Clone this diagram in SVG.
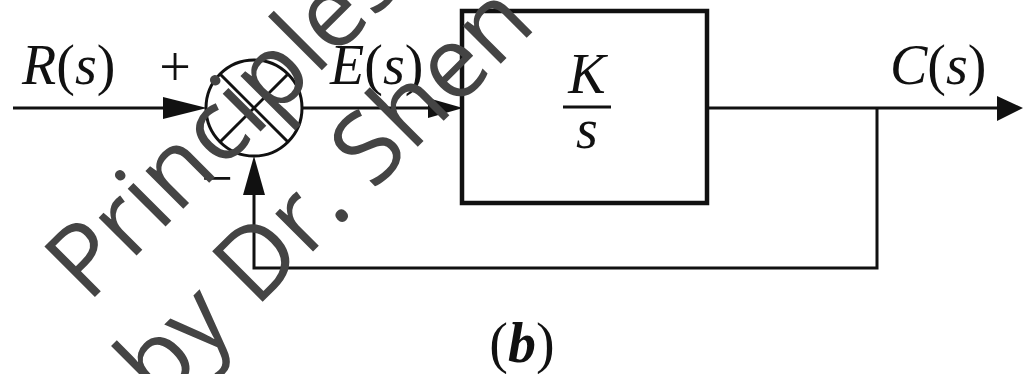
<svg xmlns="http://www.w3.org/2000/svg" width="1023" height="374" viewBox="0 0 1023 374">
<style>
.ln{stroke:#111;stroke-width:3;fill:none}
.ah{fill:#111;stroke:none}
.lbl{font-family:"Liberation Serif","Times New Roman",serif;font-size:56px;fill:#111}
.it{font-style:italic}
.wm{font-family:"Open Sans","Noto Sans",sans-serif;font-size:100px;fill:#444;font-weight:500}
</style>
<rect width="1023" height="374" fill="#fff"/>
<g id="connectors">
<line class="ln" x1="13" y1="108" x2="180" y2="108"/>
<polygon class="ah" points="163,97 207,108 163,119"/>
<line class="ln" x1="302" y1="108" x2="440" y2="108"/>
<polygon class="ah" points="428,98 463,108 428,118"/>
<line class="ln" x1="707" y1="108" x2="1005" y2="108"/>
<polygon class="ah" points="997,96 1023,108 997,121"/>
<polyline class="ln" points="877,108 877,268 254,268 254,185"/>
<polygon class="ah" points="243,195 254,156 265,195"/>
</g>
<g id="input-label">
<text class="lbl" x="22" y="84"><tspan class="it">R</tspan>(<tspan class="it">s</tspan>)</text>
</g>
<g id="sum">
<circle cx="254" cy="108" r="48" class="ln"/>
<line class="ln" x1="220" y1="74" x2="288" y2="142" stroke-width="2.5"/>
<line class="ln" x1="220" y1="142" x2="288" y2="74" stroke-width="2.5"/>
<text class="lbl" x="175" y="86" text-anchor="middle" font-size="62">+</text>
<text class="lbl" x="217" y="197" text-anchor="middle">−</text>
</g>
<g id="error-label">
<text class="lbl" x="330" y="84"><tspan class="it">E</tspan>(<tspan class="it">s</tspan>)</text>
</g>
<g id="block">
<rect x="462" y="11" width="245" height="192" fill="none" stroke="#111" stroke-width="4.5"/>
<text class="lbl it" x="587" y="93" text-anchor="middle">K</text>
<line class="ln" x1="563" y1="107" x2="611" y2="107"/>
<text class="lbl it" x="587" y="148" text-anchor="middle">s</text>
</g>
<g id="output-label">
<text class="lbl" x="890" y="84"><tspan class="it">C</tspan>(<tspan class="it">s</tspan>)</text>
</g>
<g id="caption">
<text class="lbl" x="522" y="362" text-anchor="middle">(<tspan class="it" font-weight="bold">b</tspan>)</text>
</g>
<g id="watermark" transform="translate(88,304) rotate(-45)">
<text class="wm" x="0" y="0">Principles</text>
<text class="wm" x="-22" y="122">by Dr. Shen</text>
</g>
</svg>
